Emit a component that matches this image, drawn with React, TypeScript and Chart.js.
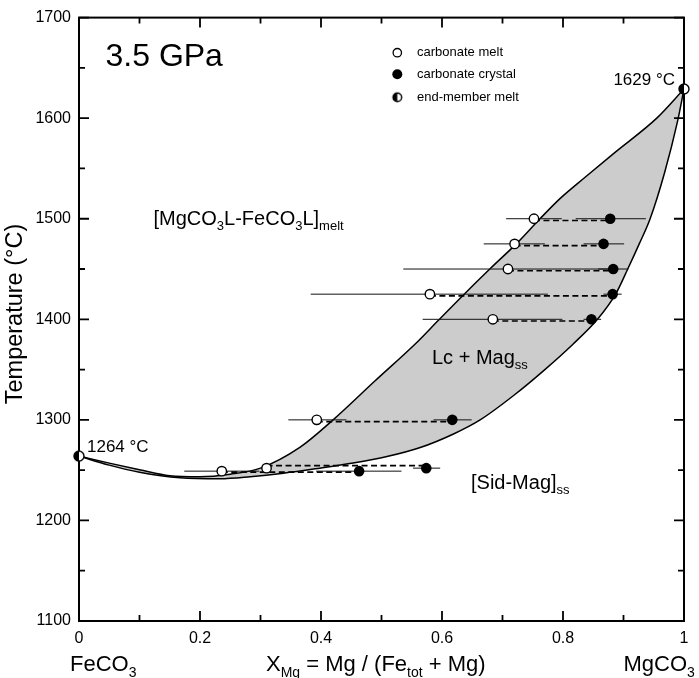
import { useEffect, useRef } from "react";
import { Chart, registerables } from "chart.js";
Chart.register(...registerables);

const FONT = "'Liberation Sans', Arial, Helvetica, sans-serif";
const GRAY = "rgb(204,204,204)";

// ---- data ----
const meltX = [0.752, 0.72, 0.709, 0.58, 0.684, 0.393, 0.236, 0.31];
const meltT = [1500, 1475, 1450, 1425, 1400, 1300, 1249, 1252];
const meltErrLo = [0.706, 0.669, 0.536, 0.383, 0.568, 0.346, 0.174, 0.31];
const meltErrHi = [0.798, 0.77, 0.882, 0.775, 0.799, 0.442, 0.298, 0.31];

const crystalX = [0.878, 0.867, 0.883, 0.882, 0.847, 0.617, 0.463, 0.574];
const crystalT = [1500, 1475, 1450, 1425, 1400, 1300, 1249, 1252];
const crystalErrLo = [0.821, 0.834, 0.858, 0.867, 0.834, 0.586, 0.392, 0.552];
const crystalErrHi = [0.937, 0.901, 0.908, 0.897, 0.863, 0.649, 0.533, 0.597];

const tieT = [1498.3, 1473.3, 1448.3, 1423.3, 1398.3, 1298.3, 1248, 1254.5];

const endX = [0, 1];
const endT = [1264, 1629];

const liqX = [0, 0.05, 0.1, 0.15, 0.2, 0.25, 0.3, 0.365, 0.42, 0.489, 0.56, 0.594, 0.635, 0.679, 0.7235, 0.762, 0.795, 0.836, 0.886, 0.955, 1];
const liqT = [1264, 1257, 1250.5, 1244.5, 1243.5, 1246, 1252, 1272.6, 1300, 1338.6, 1378, 1399, 1424, 1450, 1475.5, 1500, 1520, 1541, 1566, 1600, 1629];

const solX = [0, 0.05, 0.1, 0.167, 0.233, 0.283, 0.338, 0.398, 0.453, 0.509, 0.564, 0.619, 0.663, 0.72, 0.77, 0.816, 0.857, 0.887, 0.907, 0.926, 0.944, 0.968, 0.989, 1];
const solT = [1264, 1255, 1248, 1242.5, 1241.5, 1243.5, 1247, 1252, 1257, 1263.5, 1272.5, 1286, 1300, 1325, 1350, 1375, 1400, 1425, 1450, 1475, 1500, 1546, 1596, 1629];

const xMajor = [0, 0.2, 0.4, 0.6, 0.8, 1];
const xMinor = [0.1, 0.3, 0.5, 0.7, 0.9];
const yMajor = [1100, 1200, 1300, 1400, 1500, 1600, 1700];
const yMinor = [1150, 1250, 1350, 1450, 1550, 1650];
const xTickLabels = ["0", "0.2", "0.4", "0.6", "0.8", "1"];
const yTickLabels = ["1100", "1200", "1300", "1400", "1500", "1600", "1700"];

const legendLabels = ["carbonate melt", "carbonate crystal", "end-member melt"];

// ---- helpers ----
function halfCircle(r: number) {
  const s = Math.ceil(2 * r + 4);
  const c = document.createElement("canvas");
  c.width = s;
  c.height = s;
  const g = c.getContext("2d")!;
  const cx = s / 2, cy = s / 2;
  g.beginPath();
  g.arc(cx, cy, r, 0, Math.PI * 2);
  g.fillStyle = "#fff";
  g.fill();
  g.beginPath();
  g.arc(cx, cy, r, Math.PI / 2, (3 * Math.PI) / 2);
  g.closePath();
  g.fillStyle = "#000";
  g.fill();
  g.beginPath();
  g.arc(cx, cy, r, 0, Math.PI * 2);
  g.lineWidth = 1.4;
  g.strokeStyle = "#000";
  g.stroke();
  return c;
}

type Part = { t: string; s: number; dy?: number };
function rich(ctx: CanvasRenderingContext2D, parts: Part[], x: number, y: number, align: "left" | "right" = "left") {
  ctx.textAlign = "left";
  ctx.textBaseline = "alphabetic";
  let total = 0;
  for (const p of parts) {
    ctx.font = `${p.s}px ${FONT}`;
    total += ctx.measureText(p.t).width;
  }
  let cx = align === "right" ? x - total : x;
  for (const p of parts) {
    ctx.font = `${p.s}px ${FONT}`;
    ctx.fillText(p.t, cx, y + (p.dy || 0));
    cx += ctx.measureText(p.t).width;
  }
}

function segments(lo: number[], hi: number[], t: number[]) {
  const out: any[] = [];
  t.forEach((v, i) => {
    out.push({ x: lo[i], y: v }, { x: hi[i], y: v }, { x: hi[i], y: null });
  });
  return out;
}

const framePlugin = {
  id: "frameTicks",
  beforeDatasetsDraw(chart: any) {
    const { ctx, chartArea: a, scales } = chart;
    const xs = scales.x, ys = scales.y;
    ctx.save();
    ctx.strokeStyle = "#000";
    ctx.lineWidth = 2;
    ctx.strokeRect(a.left, a.top, a.right - a.left, a.bottom - a.top);
    ctx.lineWidth = 1.8;
    const tick = (vals: number[], len: number) => {
      for (const v of vals) {
        const px = xs.getPixelForValue(v);
        ctx.beginPath();
        ctx.moveTo(px, a.bottom);
        ctx.lineTo(px, a.bottom - len);
        ctx.moveTo(px, a.top);
        ctx.lineTo(px, a.top + len);
        ctx.stroke();
      }
    };
    const tickY = (vals: number[], len: number) => {
      for (const v of vals) {
        const py = ys.getPixelForValue(v);
        ctx.beginPath();
        ctx.moveTo(a.left, py);
        ctx.lineTo(a.left + len, py);
        ctx.moveTo(a.right, py);
        ctx.lineTo(a.right - len, py);
        ctx.stroke();
      }
    };
    tick(xMajor, 10);
    tick(xMinor, 6);
    tickY(yMajor, 10);
    tickY(yMinor, 6);
    ctx.restore();
  },
  afterDraw(chart: any) {
    const { ctx } = chart;
    ctx.save();
    ctx.fillStyle = "#000";
    rich(ctx, [{ t: "3.5 GPa", s: 32 }], 105.5, 66);
    rich(ctx, [{ t: "1629 °C", s: 17 }], 675, 85, "right");
    rich(ctx, [{ t: "1264 °C", s: 17 }], 87, 451.5);
    rich(ctx, [
      { t: "[MgCO", s: 20 }, { t: "3", s: 13, dy: 5 }, { t: "L-FeCO", s: 20 }, { t: "3", s: 13, dy: 5 },
      { t: "L]", s: 20 }, { t: "melt", s: 13, dy: 5 },
    ], 153.5, 225);
    rich(ctx, [{ t: "Lc + Mag", s: 20 }, { t: "ss", s: 13, dy: 5 }], 432, 364);
    rich(ctx, [{ t: "[Sid-Mag]", s: 20 }, { t: "ss", s: 13, dy: 5 }], 471, 489);
    rich(ctx, [{ t: "FeCO", s: 22 }, { t: "3", s: 14, dy: 6 }], 70, 670.5);
    rich(ctx, [
      { t: "X", s: 22 }, { t: "Mg", s: 14, dy: 6 }, { t: " = Mg / (Fe", s: 22 }, { t: "tot", s: 14, dy: 6 },
      { t: " + Mg)", s: 22 },
    ], 266, 670.5);
    rich(ctx, [{ t: "MgCO", s: 22 }, { t: "3", s: 14, dy: 6 }], 623.5, 670.5);

    // y title
    ctx.save();
    ctx.translate(16, 314);
    ctx.rotate(-Math.PI / 2);
    ctx.font = `23.5px ${FONT}`;
    ctx.textAlign = "center";
    ctx.textBaseline = "middle";
    ctx.fillText("Temperature (°C)", 0, 0);
    ctx.restore();

    // legend
    const lx = 397.3;
    const rows = [52.7, 74.3, 97.3];
    ctx.lineWidth = 1.3;
    ctx.strokeStyle = "#000";
    ctx.beginPath();
    ctx.arc(lx, rows[0], 4.2, 0, Math.PI * 2);
    ctx.fillStyle = "#fff";
    ctx.fill();
    ctx.stroke();
    ctx.beginPath();
    ctx.arc(lx, rows[1], 5, 0, Math.PI * 2);
    ctx.fillStyle = "#000";
    ctx.fill();
    const hc = halfCircle(4.3);
    ctx.drawImage(hc, lx - hc.width / 2, rows[2] - hc.height / 2);
    ctx.fillStyle = "#000";
    ctx.font = `13px ${FONT}`;
    ctx.textAlign = "left";
    ctx.textBaseline = "middle";
    legendLabels.forEach((l, i) => ctx.fillText(l, 417, rows[i]));
    ctx.restore();
  },
};

export default function App() {
  const ref = useRef<HTMLCanvasElement>(null);
  useEffect(() => {
    const half = halfCircle(5);
    const chart = new Chart(ref.current!, {
      type: "scatter",
      data: {
        datasets: [
          {
            data: endX.map((x, i) => ({ x, y: endT[i] })),
            pointStyle: half as any,
            pointRadius: 5,
            showLine: false,
            clip: false as any,
          },
          {
            data: crystalX.map((x, i) => ({ x, y: crystalT[i] })),
            pointStyle: "circle",
            pointRadius: 5.3,
            pointBackgroundColor: "#000",
            pointBorderColor: "#000",
            pointBorderWidth: 0,
            showLine: false,
          },
          {
            data: meltX.map((x, i) => ({ x, y: meltT[i] })),
            pointStyle: "circle",
            pointRadius: 4.7,
            pointBackgroundColor: "#fff",
            pointBorderColor: "#000",
            pointBorderWidth: 1.4,
            showLine: false,
          },
          {
            data: segments(meltX, crystalX, tieT),
            showLine: true,
            borderColor: "#000",
            borderWidth: 1.6,
            borderDash: [6, 3.5],
            pointRadius: 0,
            spanGaps: false,
          },
          {
            data: [...segments(meltErrLo, meltErrHi, meltT), ...segments(crystalErrLo, crystalErrHi, crystalT)],
            showLine: true,
            borderColor: "#111",
            borderWidth: 1,
            pointRadius: 0,
            spanGaps: false,
          },
          {
            data: liqX.map((x, i) => ({ x, y: liqT[i] })),
            showLine: true,
            borderColor: "#000",
            borderWidth: 1.5,
            pointRadius: 0,
            cubicInterpolationMode: "monotone",
            fill: { target: 6, above: GRAY, below: GRAY } as any,
            backgroundColor: GRAY,
          },
          {
            data: solX.map((x, i) => ({ x, y: solT[i] })),
            showLine: true,
            borderColor: "#000",
            borderWidth: 1.5,
            pointRadius: 0,
            cubicInterpolationMode: "monotone",
          },
        ],
      },
      options: {
        animation: false,
        responsive: false,
        devicePixelRatio: 1,
        events: [],
        layout: { padding: { top: 15, right: 15, left: 0, bottom: 0 }, autoPadding: false } as any,
        plugins: {
          legend: { display: false },
          tooltip: { enabled: false },
          filler: { drawTime: "beforeDatasetsDraw" } as any,
        },
        scales: {
          x: {
            type: "linear",
            min: 0,
            max: 1,
            border: { display: false },
            grid: { display: false, drawTicks: false },
            afterBuildTicks: (s: any) => {
              s.ticks = xMajor.map((v) => ({ value: v }));
            },
            afterFit: (s: any) => {
              s.height = 57;
            },
            ticks: {
              padding: 8,
              color: "#000",
              font: { family: FONT, size: 16 },
              callback: (v: any) => xTickLabels[xMajor.indexOf(Number(v))] ?? "",
              maxRotation: 0,
            },
          },
          y: {
            type: "linear",
            min: 1100,
            max: 1700,
            border: { display: false },
            grid: { display: false, drawTicks: false },
            afterBuildTicks: (s: any) => {
              s.ticks = yMajor.map((v) => ({ value: v }));
            },
            afterFit: (s: any) => {
              s.width = 79;
            },
            ticks: {
              padding: 8,
              color: "#000",
              font: { family: FONT, size: 16 },
              callback: (v: any) => yTickLabels[yMajor.indexOf(Number(v))] ?? "",
            },
          },
        },
      },
      plugins: [framePlugin],
    });
    return () => chart.destroy();
  }, []);
  return (
    <div>
      <canvas
        ref={ref}
        width={699}
        height={678}
        style={{ position: "fixed", left: 0, top: 0, width: 699, height: 678, display: "block" }}
      />
    </div>
  );
}
